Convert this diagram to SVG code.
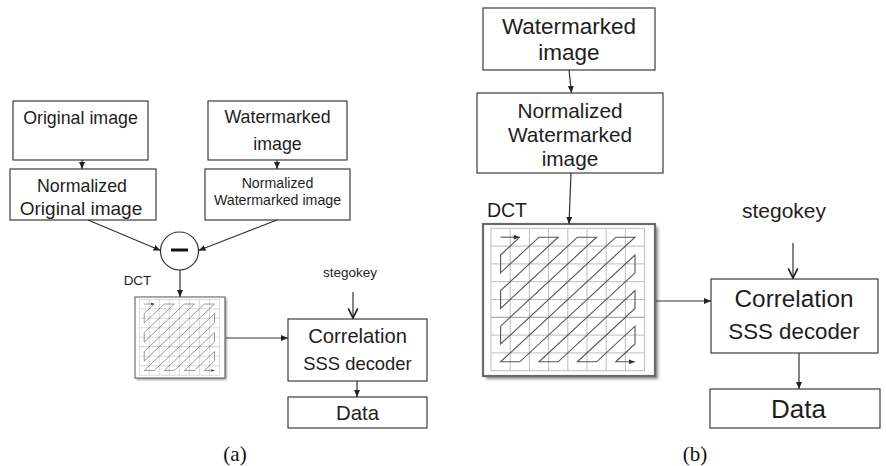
<svg xmlns="http://www.w3.org/2000/svg" width="886" height="466" viewBox="0 0 886 466">
  <defs>
    <style>
      .box { fill: #ffffff; stroke: #3c3c3c; stroke-width: 1.2; }
      .lbl { font-family: "Liberation Sans", Arial, sans-serif; fill: #1e1e1e; text-anchor: middle; }
      .cap { font-family: "Liberation Serif", "Times New Roman", serif; fill: #111; text-anchor: middle; font-size: 21px; }
      .wire { fill: none; stroke: #333; stroke-width: 1.2; }
      .gl { stroke: #bdbdbd; stroke-width: 1; fill: none; }
      .scan { fill: none; stroke: #555; stroke-width: 1.1; stroke-linejoin: miter; }
    </style>
    <marker id="tri" viewBox="0 0 8 8" refX="8" refY="4" markerWidth="7" markerHeight="7" markerUnits="userSpaceOnUse" orient="auto">
      <path d="M0,0.6 L8,4 L0,7.4 z" fill="#222"/>
    </marker>
    <marker id="chev" viewBox="0 0 10 10" refX="9" refY="5" markerWidth="12" markerHeight="12" markerUnits="userSpaceOnUse" orient="auto">
      <path d="M1,1 L9,5 L1,9" fill="none" stroke="#222" stroke-width="1.4"/>
    </marker>
    <marker id="scanhead" viewBox="0 0 8 8" refX="8" refY="4" markerWidth="7" markerHeight="6" markerUnits="userSpaceOnUse" orient="auto">
      <path d="M0,0.8 L8,4 L0,7.2 z" fill="#333"/>
    </marker>
    <filter id="soft" x="-10%" y="-10%" width="130%" height="130%">
      <feGaussianBlur stdDeviation="1.6"/>
    </filter>
    <!-- 8x8 DCT coefficient grid with zig-zag scan, drawn at 172x152 -->
    <g id="dctgrid">
      <rect x="3" y="3" width="172" height="152" fill="#8a8a8a" filter="url(#soft)"/>
      <rect x="0" y="0" width="172" height="152" fill="#ffffff" stroke="#6a6a6a" stroke-width="2.2"/>
      <g class="gl">
        <rect x="8" y="4.3" width="153.6" height="142.4"/>
        <path d="M27.2,4.3V146.7 M46.4,4.3V146.7 M65.6,4.3V146.7 M84.8,4.3V146.7 M104,4.3V146.7 M123.2,4.3V146.7 M142.4,4.3V146.7"/>
        <path d="M8,22.1H161.6 M8,39.9H161.6 M8,57.7H161.6 M8,75.5H161.6 M8,111.1H161.6 M8,128.9H161.6"/>
        <path d="M8,93.3H161.6" stroke="#9a9a9a"/>
      </g>
      <line class="scan" x1="17.6" y1="13.2" x2="36.8" y2="13.2" marker-end="url(#scanhead)"/>
      <polyline class="scan" marker-end="url(#scanhead)" points="36.8,13.2 17.6,31 17.6,48.8 56,13.2 75.2,13.2 17.6,66.6 17.6,84.4 94.4,13.2 113.6,13.2 17.6,102.2 17.6,120 132.8,13.2 152,13.2 17.6,137.8 36.8,137.8 152,31 152,48.8 56,137.8 75.2,137.8 152,66.6 152,84.4 94.4,137.8 113.6,137.8 152,102.2 152,120 132.8,137.8 152,137.8"/>
    </g>
  </defs>

  <rect width="886" height="466" fill="#ffffff"/>

  <!-- (a) extraction using the original image -->
  <g id="a-original">
    <rect class="box" x="13" y="101" width="135" height="59"/>
    <text class="lbl" x="80.5" y="124" font-size="17.8">Original image</text>
  </g>
  <g id="a-normalized-original">
    <rect class="box" x="10" y="169" width="146" height="51"/>
    <text class="lbl" x="82" y="192" font-size="17.8">Normalized</text>
    <text class="lbl" x="81" y="215" font-size="19">Original image</text>
  </g>
  <g id="a-watermarked">
    <rect class="box" x="208" y="101" width="139" height="59"/>
    <text class="lbl" x="277.5" y="123" font-size="17.8">Watermarked</text>
    <text class="lbl" x="277.5" y="150" font-size="17.8">image</text>
  </g>
  <g id="a-normalized-watermarked">
    <rect class="box" x="205" y="169" width="145" height="51"/>
    <text class="lbl" x="277.5" y="188" font-size="14.2">Normalized</text>
    <text class="lbl" x="277.5" y="205" font-size="14.2">Watermarked  image</text>
  </g>
  <g id="a-subtract">
    <circle cx="179.5" cy="251" r="19" fill="#ffffff" stroke="#333" stroke-width="1.2"/>
    <line x1="171" y1="250" x2="188" y2="250" stroke="#111" stroke-width="3"/>
  </g>
  <g id="a-dct">
    <text class="lbl" x="137.5" y="285" font-size="13.5">DCT</text>
    <use href="#dctgrid" transform="translate(135,297) scale(0.523,0.533)"/>
  </g>
  <g id="a-stegokey">
    <text class="lbl" x="350" y="277" font-size="13.5">stegokey</text>
  </g>
  <g id="a-decoder">
    <rect class="box" x="288" y="319" width="139" height="62"/>
    <text class="lbl" x="357.5" y="343" font-size="20.2">Correlation</text>
    <text class="lbl" x="357.5" y="370" font-size="18.4">SSS decoder</text>
  </g>
  <g id="a-data">
    <rect class="box" x="288" y="397" width="139" height="31"/>
    <text class="lbl" x="357.5" y="420" font-size="20.4">Data</text>
  </g>
  <text class="cap" x="235" y="461">(a)</text>

  <!-- (b) extraction without the original image -->
  <g id="b-watermarked">
    <rect class="box" x="483" y="8" width="172" height="62"/>
    <text class="lbl" x="569" y="34" font-size="22.5">Watermarked</text>
    <text class="lbl" x="569" y="60" font-size="22.5">image</text>
  </g>
  <g id="b-normalized">
    <rect class="box" x="477" y="93" width="186" height="80"/>
    <text class="lbl" x="570" y="118" font-size="20.8">Normalized</text>
    <text class="lbl" x="570" y="142" font-size="20.8">Watermarked</text>
    <text class="lbl" x="570" y="166" font-size="20.8">image</text>
  </g>
  <g id="b-dct">
    <text class="lbl" x="507" y="217" font-size="19.5">DCT</text>
    <use href="#dctgrid" transform="translate(483,224)"/>
  </g>
  <g id="b-stegokey">
    <text class="lbl" x="784" y="218" font-size="21">stegokey</text>
  </g>
  <g id="b-decoder">
    <rect class="box" x="711" y="279" width="167" height="74"/>
    <text class="lbl" x="794" y="307" font-size="24.3">Correlation</text>
    <text class="lbl" x="794" y="339" font-size="22.3">SSS decoder</text>
  </g>
  <g id="b-data">
    <rect class="box" x="710" y="389" width="170" height="39"/>
    <text class="lbl" x="798.5" y="418" font-size="26">Data</text>
  </g>
  <text class="cap" x="695" y="461">(b)</text>

  <!-- connectors -->
  <g id="connectors">
    <line class="wire" x1="82" y1="160" x2="82" y2="169" marker-end="url(#tri)"/>
    <line class="wire" x1="277" y1="160" x2="277" y2="169" marker-end="url(#tri)"/>
    <line class="wire" x1="88" y1="220" x2="160.5" y2="250.5" marker-end="url(#tri)"/>
    <line class="wire" x1="277" y1="220" x2="198.5" y2="250.5" marker-end="url(#tri)"/>
    <line class="wire" x1="180" y1="270" x2="180" y2="297" marker-end="url(#tri)"/>
    <line class="wire" x1="226" y1="338" x2="288" y2="338" marker-end="url(#tri)"/>
    <line class="wire" x1="353" y1="292" x2="353" y2="318" marker-end="url(#chev)"/>
    <line class="wire" x1="357" y1="381" x2="357" y2="397" marker-end="url(#tri)"/>

    <line class="wire" x1="569" y1="70" x2="571.5" y2="93" marker-end="url(#tri)"/>
    <line class="wire" x1="571" y1="173" x2="569" y2="224" marker-end="url(#tri)"/>
    <line class="wire" x1="656" y1="301" x2="711" y2="301" marker-end="url(#tri)"/>
    <line class="wire" x1="793" y1="243" x2="793" y2="278" marker-end="url(#chev)"/>
    <line class="wire" x1="799" y1="353" x2="799" y2="389" marker-end="url(#tri)"/>
  </g>
</svg>
